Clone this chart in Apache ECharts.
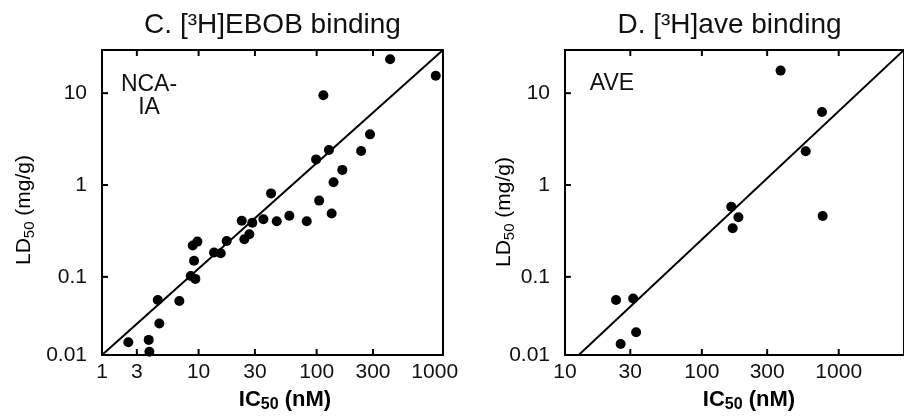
<!DOCTYPE html>
<html><head><meta charset="utf-8">
<script src="https://cdn.jsdelivr.net/npm/echarts@6/dist/echarts.min.js"></script>
<style>html,body{margin:0;padding:0;background:#fff}#c{width:904px;height:419px}</style>
</head><body><div id="c"></div>
<script>
// Panel C: [3H]EBOB binding
const ebobIC50 = [419, 1020, 114, 283, 127, 98.9, 238, 165, 139, 41.1, 105, 134, 82.4, 58.7, 45.9, 35.4, 28.5, 23.2, 26.9, 24.4, 17.3, 15.4, 13.5, 9.77, 8.92, 9.15, 8.58, 9.39, 6.87, 4.51, 4.65, 2.54, 3.78, 3.83];
const ebobLD50 = [23.4, 15.5, 9.5, 3.56, 2.40, 1.90, 2.35, 1.46, 1.07, 0.81, 0.676, 0.489, 0.403, 0.463, 0.403, 0.424, 0.389, 0.409, 0.291, 0.257, 0.246, 0.181, 0.184, 0.242, 0.219, 0.150, 0.102, 0.095, 0.0547, 0.0561, 0.031, 0.0194, 0.0206, 0.0153];
// Panel D: [3H]ave binding
const aveIC50 = [376, 755, 574, 764, 164, 185, 168, 23.6, 31.5, 33.1, 25.5];
const aveLD50 = [17.6, 6.24, 2.33, 0.460, 0.581, 0.445, 0.338, 0.0561, 0.058, 0.0249, 0.0186];
// regression lines (end points)
const ebobFitIC50 = [1.52, 1175];
const ebobFitLD50 = [0.0141, 29.5];
const aveFitIC50 = [12.6, 3000];
const aveFitLD50 = [0.0141, 29.5];
// axis ranges
const ebobXRange = [1.52, 1175];
const aveXRange = [10, 3000];
const yRange = [0.0141, 29.5];
// ticks and labels
const ebobXTickValues = [3, 10, 30, 100, 300];
const ebobXLabels = ['1', '3', '10', '30', '100', '300', '1000'];
const ebobXLabelValues = [1.52, 3, 10, 30, 100, 300, 1000];
const aveXTickValues = [30, 100, 300, 1000];
const aveXLabels = ['10', '30', '100', '300', '1000'];
const aveXLabelValues = [10, 30, 100, 300, 1000];
const yTickValues = [0.1, 1, 10];
const yLabels = ['0.01', '0.1', '1', '10'];
const yLabelValues = [0.0141, 0.1, 1, 10];

const L = Math.log10;
const FONT = 'Liberation Sans, Arial, Helvetica, sans-serif';
const TICK_LEN = 6;

function fmt(values, labels) {
  return function (v) {
    for (let i = 0; i < values.length; i++) {
      if (Math.abs(L(values[i]) - v) < 1e-6) return labels[i];
    }
    return '';
  };
}

const axisLineStyle = { show: true, onZero: false, lineStyle: { color: '#000', width: 2 } };

function xAxis(grid, range, labelVals, labels) {
  return {
    type: 'value', gridIndex: grid, min: L(range[0]), max: L(range[1]), position: 'bottom',
    splitLine: { show: false }, axisLine: axisLineStyle, axisTick: { show: false },
    axisLabel: { show: true, customValues: labelVals.map(L), formatter: fmt(labelVals, labels), color: '#111', fontSize: 21, fontFamily: FONT, margin: 7 }
  };
}

function yAxis(grid) {
  return {
    type: 'value', gridIndex: grid, min: L(yRange[0]), max: L(yRange[1]), position: 'left',
    splitLine: { show: false }, axisLine: axisLineStyle, axisTick: { show: false },
    axisLabel: { show: true, customValues: yLabelValues.map(L), formatter: fmt(yLabelValues, yLabels), color: '#111', fontSize: 21, fontFamily: FONT, margin: 15 }
  };
}

function pts(xs, ys) { return xs.map((x, i) => [L(x), L(ys[i])]); }

// inward tick marks drawn through the axes' scales (as short line segments)
function tickSeries(axisIdx, xRange, xTicks, gridW) {
  const segs = [];
  const yLo = L(yRange[0]), yHi = L(yRange[1]);
  const xLo = L(xRange[0]);
  const dy = (yHi - yLo) * TICK_LEN / 305;
  const dx = (L(xRange[1]) - xLo) * TICK_LEN / gridW;
  xTicks.forEach(v => {
    segs.push([[L(v), yLo], [L(v), yLo + dy]]);
    segs.push([[L(v), yHi], [L(v), yHi - dy]]);
  });
  yTickValues.forEach(v => segs.push([[xLo, L(v)], [xLo + dx, L(v)]]));
  return segs.map(s => ({
    type: 'line', xAxisIndex: axisIdx, yAxisIndex: axisIdx, data: s, showSymbol: false, silent: true, z: 5,
    lineStyle: { color: '#000', width: 2 }
  }));
}

const richSub = {
  n: { fontSize: 21, fontFamily: FONT, color: '#111', lineHeight: 26 },
  s: { fontSize: 15, fontFamily: FONT, color: '#111', lineHeight: 12, verticalAlign: 'bottom' }
};
const richSubBold = {
  n: { fontSize: 22, fontWeight: 'bold', fontFamily: FONT, color: '#111', lineHeight: 26 },
  s: { fontSize: 16, fontWeight: 'bold', fontFamily: FONT, color: '#111', lineHeight: 12, verticalAlign: 'bottom' }
};

function txt(x, y, text, size) {
  return {
    type: 'text', x: x, y: y, silent: true,
    style: { text: text, fontSize: size, fontFamily: FONT, fill: '#111', align: 'center', verticalAlign: 'middle' }
  };
}

const dotStyle = { color: '#000', opacity: 1 };

const chart = echarts.init(document.getElementById('c'), null, { renderer: 'canvas' });
chart.setOption({
  animation: false,
  backgroundColor: '#fff',
  grid: [
    { left: 102, top: 50, width: 341, height: 305, show: true, borderColor: '#000', borderWidth: 2, backgroundColor: 'transparent' },
    { left: 565, top: 50, width: 345, height: 305, show: true, borderColor: '#000', borderWidth: 2, backgroundColor: 'transparent' }
  ],
  xAxis: [xAxis(0, ebobXRange, ebobXLabelValues, ebobXLabels), xAxis(1, aveXRange, aveXLabelValues, aveXLabels)],
  yAxis: [yAxis(0), yAxis(1)],
  series: [].concat(
    tickSeries(0, ebobXRange, ebobXTickValues, 341),
    tickSeries(1, aveXRange, aveXTickValues, 345),
    [
      { type: 'scatter', xAxisIndex: 0, yAxisIndex: 0, data: pts(ebobIC50, ebobLD50), symbolSize: 10, itemStyle: dotStyle, silent: true },
      { type: 'line', xAxisIndex: 0, yAxisIndex: 0, data: pts(ebobFitIC50, ebobFitLD50), showSymbol: false, lineStyle: { color: '#000', width: 2 }, silent: true },
      { type: 'scatter', xAxisIndex: 1, yAxisIndex: 1, data: pts(aveIC50, aveLD50), symbolSize: 10, itemStyle: dotStyle, silent: true },
      { type: 'line', xAxisIndex: 1, yAxisIndex: 1, data: pts(aveFitIC50, aveFitLD50), showSymbol: false, lineStyle: { color: '#000', width: 2 }, silent: true }
    ]
  ),
  graphic: [
    txt(272.5, 25, 'C. [³H]EBOB binding', 28),
    txt(729.5, 25, 'D. [³H]ave binding', 28),
    txt(149, 96, 'NCA-\nIA', 23),
    txt(612, 84, 'AVE', 23),
    { type: 'text', x: 24, y: 210, rotation: Math.PI / 2, silent: true,
      style: { text: '{n|LD}{s|50}{n| (mg/g)}', rich: richSub, align: 'center', verticalAlign: 'middle' } },
    { type: 'text', x: 504, y: 212, rotation: Math.PI / 2, silent: true,
      style: { text: '{n|LD}{s|50}{n| (mg/g)}', rich: richSub, align: 'center', verticalAlign: 'middle' } },
    { type: 'text', x: 285, y: 400, silent: true,
      style: { text: '{n|IC}{s|50}{n| (nM)}', rich: richSubBold, align: 'center', verticalAlign: 'middle' } },
    { type: 'text', x: 749, y: 400, silent: true,
      style: { text: '{n|IC}{s|50}{n| (nM)}', rich: richSubBold, align: 'center', verticalAlign: 'middle' } }
  ]
});
</script>
</body></html>
